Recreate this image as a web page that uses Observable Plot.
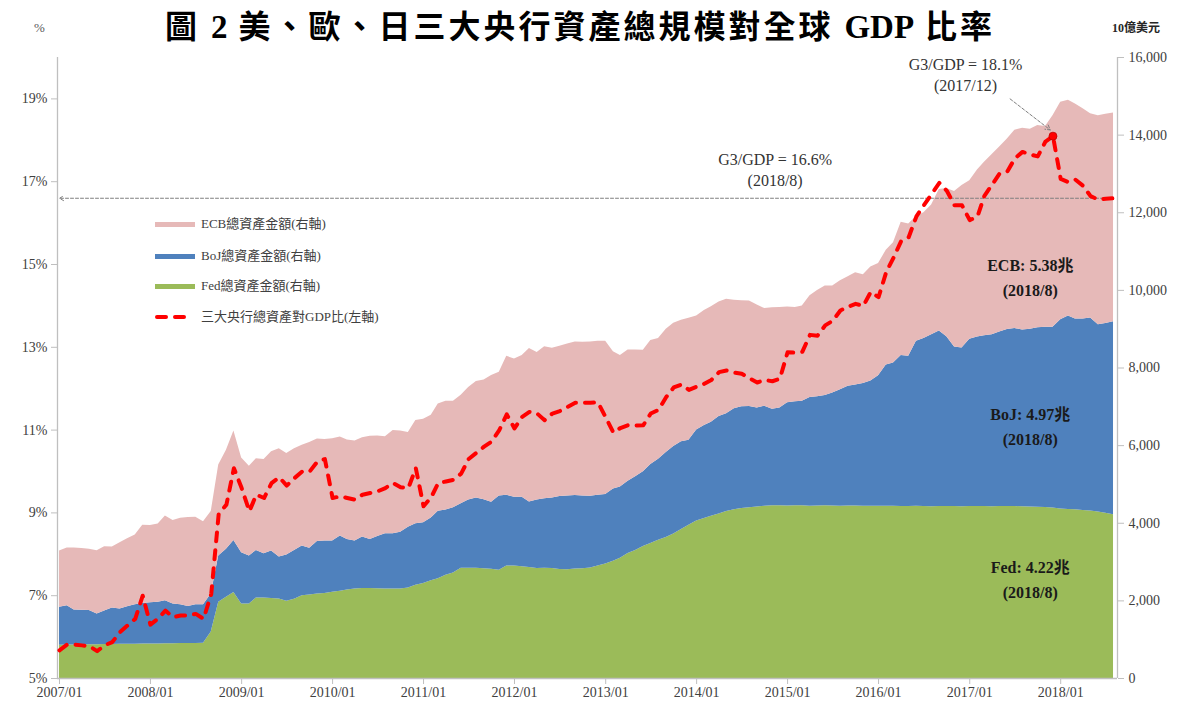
<!DOCTYPE html>
<html><head><meta charset="utf-8">
<script src="https://cdn.jsdelivr.net/npm/d3@7"></script>
<script src="https://cdn.jsdelivr.net/npm/@observablehq/plot@0.6"></script>
<style>
body{margin:0;background:#fff;font-family:"Liberation Serif","Noto Sans CJK TC",serif;}
#wrap{position:relative;width:1180px;height:704px;overflow:hidden;}
#title{position:absolute;left:0;top:7px;width:1160px;text-align:center;font-size:32px;line-height:40px;font-weight:bold;letter-spacing:3px;color:#000;}
#title .lat{letter-spacing:0;font-size:33px;}
.unit{position:absolute;top:20px;font-size:13px;line-height:16px;color:#595959;}
#chart{position:absolute;left:0;top:40px;}
.leg{position:absolute;left:155px;height:16px;line-height:16px;font-size:13px;color:#404040;display:flex;align-items:center;}
.sw{display:inline-block;width:40px;height:5px;margin-right:6px;}
</style></head>
<body><div id="wrap">
<div id="title">圖 <span class="lat">2</span> 美、歐、日三大央行資產總規模對全球 <span class="lat">GDP</span> 比率</div>
<div class="unit" style="left:34px;">%</div>
<div class="unit" style="left:1112px;font-weight:bold;color:#262626;font-size:12px;">10億美元</div>
<div id="chart"></div>
<div class="leg" style="top:216px"><span class="sw" style="background:#e6b9b8"></span>ECB總資產金額(右軸)</div>
<div class="leg" style="top:248px"><span class="sw" style="background:#4f81bd"></span>BoJ總資產金額(右軸)</div>
<div class="leg" style="top:278px"><span class="sw" style="background:#9bbb59"></span>Fed總資產金額(右軸)</div>
<div class="leg" style="top:309px"><svg width="40" height="8" style="margin-right:6px"><line x1="2" y1="4" x2="38" y2="4" stroke="#ff0000" stroke-width="4" stroke-linecap="round" stroke-dasharray="9,9"/></svg>三大央行總資產對GDP比(左軸)</div>
</div>
<script>
// Monthly, 2007/01 – 2018/08 (billions USD)
const fed = [855,860,865,868,870,872,875,878,880,882,885,888,
890,892,895,898,900,902,905,910,1195,1963,2091,2219,
1920,1920,2074,2074,2060,2048,1988,2040,2133,2150,2180,2193,
2225,2250,2280,2304,2320,2321,2315,2304,2304,2304,2330,2400,
2449,2520,2570,2660,2720,2842,2842,2842,2830,2816,2790,2901,
2901,2880,2860,2833,2840,2833,2810,2799,2820,2830,2850,2900,
2950,3020,3100,3220,3300,3400,3480,3560,3630,3720,3840,3950,
4060,4120,4180,4240,4300,4350,4380,4400,4420,4440,4450,4450,
4445,4450,4448,4440,4445,4450,4446,4440,4442,4445,4440,4435,
4440,4438,4435,4430,4432,4435,4430,4428,4430,4432,4430,4428,
4430,4432,4430,4428,4430,4432,4430,4425,4420,4415,4405,4395,
4370,4355,4345,4330,4315,4290,4258,4220];
const boj = [980,1017,901,892,879,788,865,940,912,968,1018,1042,
1060,1071,1110,1022,1003,950,995,993,981,1194,1237,1339,
1323,1237,1226,1143,1225,1084,1195,1260,1280,1203,1350,1348,
1316,1419,1304,1237,1324,1263,1345,1425,1425,1466,1570,1590,
1562,1618,1739,1680,1680,1658,1758,1808,1778,1724,1910,1819,
1767,1788,1688,1767,1790,1817,1880,1901,1895,1870,1845,1820,
1792,1860,1835,1860,1900,1930,2036,2090,2190,2260,2257,2190,
2340,2400,2420,2510,2522,2600,2620,2610,2547,2576,2488,2517,
2658,2682,2694,2798,2815,2840,2909,3000,3088,3115,3160,3229,
3360,3642,3694,3892,3871,4255,4328,4427,4521,4374,4110,4088,
4310,4368,4400,4427,4500,4558,4589,4555,4580,4625,4643,4653,
4872,4983,4916,4931,4975,4826,4887,4970];
const ecb = [1450,1483,1599,1590,1579,1630,1656,1572,1708,1750,1797,2020,
1990,2017,2185,2150,2227,2298,2256,2137,2124,2343,2552,2816,
2437,2313,2360,2423,2560,2788,2617,2620,2597,2727,2640,2619,
2639,2551,2560,2577,2556,2656,2585,2500,2661,2604,2440,2660,
2670,2646,2761,2802,2742,2800,2900,3004,3082,3268,3190,3580,
3566,3652,3952,3800,3920,3860,3870,3918,3955,3965,3975,3970,
3948,3539,3387,3387,3267,3130,3193,3108,3180,3170,3133,3140,
2938,2963,2980,2950,2948,2795,2730,2715,2653,2516,2613,2594,
2467,2429,2458,2622,2740,2822,2757,2810,2820,2891,2803,2936,
2893,2952,3101,3435,3406,3213,3242,3345,3649,3822,4010,4184,
4082,4300,4470,4645,4763,4910,5109,5196,5150,5210,5177,5452,
5608,5562,5539,5419,5260,5380,5390,5380];
// G3 total assets / world GDP (%)
const ratio = [5.68,5.82,5.82,5.80,5.78,5.66,5.80,5.88,6.12,6.28,6.44,7.00,
6.30,6.45,6.64,6.48,6.52,6.52,6.56,6.44,7.04,8.98,9.20,10.08,
9.60,9.04,9.44,9.36,9.72,9.86,9.66,9.84,10.00,10.00,10.24,10.30,
9.36,9.40,9.36,9.32,9.44,9.48,9.52,9.60,9.72,9.62,9.60,10.08,
9.16,9.38,9.72,9.76,9.80,9.95,10.30,10.45,10.60,10.72,11.00,11.38,
11.04,11.32,11.44,11.40,11.24,11.40,11.46,11.56,11.66,11.66,11.66,11.67,
11.31,10.94,11.05,11.12,11.11,11.12,11.40,11.49,11.80,12.03,12.10,11.97,
12.05,12.12,12.21,12.40,12.44,12.39,12.36,12.25,12.15,12.21,12.18,12.24,
12.88,12.87,12.89,13.30,13.28,13.53,13.64,13.89,13.98,14.05,14.00,14.34,
14.21,14.82,15.16,15.57,15.66,16.16,16.43,16.70,16.97,16.78,16.43,16.43,
16.07,16.16,16.66,16.93,17.20,17.25,17.56,17.72,17.66,17.61,17.97,18.10,
17.07,16.99,17.05,16.90,16.65,16.57,16.59,16.60];
const months = d3.timeMonth.range(new Date(2007,0,1), new Date(2018,8,1));
const yearTicks = d3.timeYear.range(new Date(2007,0,1), new Date(2018,1,1));
const seriesNames = ["Fed","BoJ","ECB"];
const seriesColors = ["#9bbb59","#4f81bd","#e6b9b8"];
const pctTicks = [5,7,9,11,13,15,17,19];
const rightTicks = [0,2000,4000,6000,8000,10000,12000,14000,16000];
const endLabels = [
  {name:"ECB", text:"ECB: 5.38兆\n(2018/8)", date:new Date(2017,8,1), val:10385},
  {name:"BoJ", text:"BoJ: 4.97兆\n(2018/8)", date:new Date(2017,8,1), val:6546},
  {name:"Fed", text:"Fed: 4.22兆\n(2018/8)", date:new Date(2017,8,1), val:2603}
];
const notes = [
  {text:"G3/GDP = 16.6%\n(2018/8)", date:new Date(2014,10,12), pct:17.31},
  {text:"G3/GDP = 18.1%\n(2017/12)", date:new Date(2016,11,15), pct:19.6}
];

// left axis (%) shares pixels with right axis: 5%..20% <-> 0..16000
const toRight = p => (p - 5) * 16000 / 15;
const areaRows = [];
seriesNames.forEach((s, k) => {
  const arr = [fed, boj, ecb][k];
  months.forEach((d, i) => areaRows.push({date: d, series: s, value: arr[i]}));
});
const ratioRows = months.map((d, i) => ({date: d, pct: ratio[i], v: toRight(ratio[i])}));
const last = ratioRows[ratioRows.length - 1];
const first = ratioRows[0];
const peak = ratioRows.reduce((a, b) => (b.pct > a.pct ? b : a));
const hArrow = [{x1: last.date, x2: first.date, y: last.v}];
const pArrow = [{x1: new Date(2017,5,12), y1: toRight(19.0), x2: new Date(2017,10,20), y2: toRight(18.25)}];
const xDomain = [new Date(2006,11,24), new Date(2018,7,17)];
const font = "Liberation Serif, Noto Sans CJK TC, serif";

const chart = Plot.plot({
  width: 1180, height: 664,
  marginLeft: 57, marginRight: 63, marginTop: 17, marginBottom: 26,
  x: {type: "time", domain: xDomain},
  y: {domain: [0, 16000]},
  color: {domain: seriesNames, range: seriesColors},
  style: {fontFamily: font, fontSize: "14px", color: "#404040", background: "transparent"},
  marks: [
    Plot.areaY(areaRows, {x: "date", y: "value", fill: "series", order: seriesNames, curve: "linear"}),
    Plot.ruleX([xDomain[0], xDomain[1]], {stroke: "#bfbfbf", strokeWidth: 1.3}),
    Plot.ruleY([0], {stroke: "#bfbfbf", strokeWidth: 1.3}),
    Plot.axisX(yearTicks, {tickFormat: d3.timeFormat("%Y/%m"), tickSize: 6, tickPadding: 3, stroke: "#bfbfbf", fill: "#404040", label: null, fontSize: 14}),
    Plot.axisY(pctTicks.map(toRight), {anchor: "left", tickFormat: d => Math.round(d * 15 / 16000 + 5) + "%", tickSize: 6, tickPadding: 4, stroke: "#bfbfbf", fill: "#404040", label: null, fontSize: 14}),
    Plot.axisY(rightTicks, {anchor: "right", tickFormat: d3.format(","), tickSize: 6, tickPadding: 5, stroke: "#bfbfbf", fill: "#404040", label: null, fontSize: 14}),
    Plot.arrow(hArrow, {x1: "x1", x2: "x2", y1: "y", y2: "y", stroke: "#7f7f7f", strokeWidth: 1, strokeDasharray: "3,2", headLength: 7, bend: 0}),
    Plot.line(ratioRows, {x: "date", y: "v", stroke: "#ff0000", strokeWidth: 4, strokeDasharray: "9,9", strokeLinecap: "round", curve: "linear"}),
    Plot.dot([peak], {x: "date", y: "v", r: 4, fill: "#ff0000", stroke: "#c00000", strokeWidth: 0.8}),
    Plot.arrow(pArrow, {x1: "x1", y1: "y1", x2: "x2", y2: "y2", stroke: "#7f7f7f", strokeWidth: 1, strokeDasharray: "3,2", headLength: 8, bend: 0}),
    Plot.text(notes, {x: "date", y: d => toRight(d.pct), text: "text", fontSize: 16, lineHeight: 1.3, fill: "#333", fontFamily: font}),
    Plot.text(endLabels, {x: "date", y: "val", text: "text", fontSize: 16, fontWeight: "bold", lineHeight: 1.55, fill: "#1a1a1a", fontFamily: font})
  ]
});
document.getElementById("chart").appendChild(chart);
</script>
</body></html>
